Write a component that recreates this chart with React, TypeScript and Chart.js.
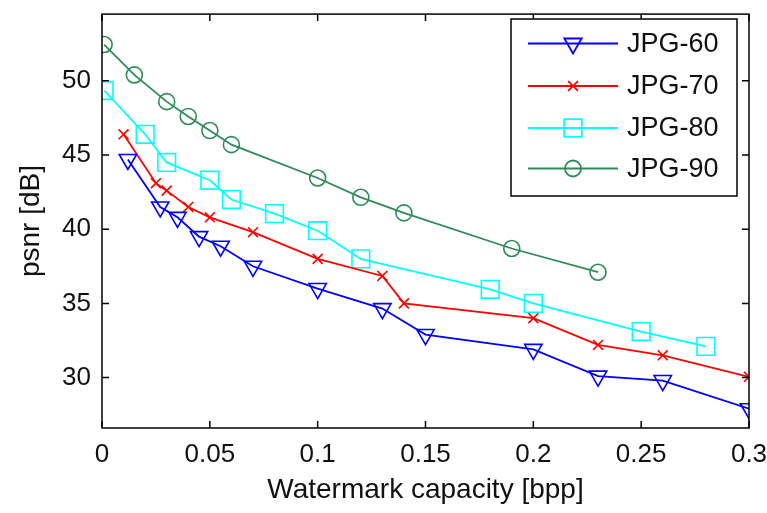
import React, { useEffect, useRef } from "react";
import { Chart, registerables } from "chart.js";
import * as helpers from "chart.js/helpers";

Chart.register(...registerables);

const seriesNames = ["JPG-60", "JPG-70", "JPG-80", "JPG-90"];
const seriesColors = ["#0000ff", "#ff0000", "#00ffff", "#2e8b57"];

const x60 = [0.012, 0.027, 0.035, 0.045, 0.055, 0.07, 0.1, 0.13, 0.15, 0.2, 0.23, 0.26, 0.3];
const y60 = [44.7, 41.5, 40.8, 39.5, 38.85, 37.5, 36.0, 34.65, 32.9, 31.9, 30.1, 29.8, 27.9];

const x70 = [0.01, 0.025, 0.03, 0.04, 0.05, 0.07, 0.1, 0.13, 0.14, 0.2, 0.23, 0.26, 0.3];
const y70 = [46.4, 43.1, 42.6, 41.5, 40.8, 39.8, 38.0, 36.85, 35.0, 34.0, 32.2, 31.5, 30.05];

const x80 = [0.001, 0.02, 0.03, 0.05, 0.06, 0.08, 0.1, 0.12, 0.18, 0.2, 0.25, 0.28];
const y80 = [49.35, 46.4, 44.5, 43.3, 42.0, 41.05, 39.9, 38.0, 35.95, 35.0, 33.1, 32.1];

const x90 = [0.001, 0.015, 0.03, 0.04, 0.05, 0.06, 0.1, 0.12, 0.14, 0.19, 0.23];
const y90 = [52.45, 50.4, 48.6, 47.6, 46.65, 45.7, 43.45, 42.15, 41.1, 38.7, 37.1];

const xTicks = [0, 0.05, 0.1, 0.15, 0.2, 0.25, 0.3];
const yTicks = [30, 35, 40, 45, 50];

const xTitle = "Watermark capacity [bpp]";
const yTitle = "psnr [dB]";

const FONT = "'Liberation Sans', Arial, sans-serif";

const markerStyles = [
  { pointStyle: "triangle", rotation: 180, radius: 10 },
  { pointStyle: "crossRot", rotation: 0, radius: 7 },
  { pointStyle: "rect", rotation: 0, radius: 12.5 },
  { pointStyle: "circle", rotation: 0, radius: 8 },
];

const toPts = (xs: number[], ys: number[]) => xs.map((x, i) => ({ x, y: ys[i] }));

const boxPlugin = {
  id: "matlabBox",
  afterDatasetsDraw(chart: any) {
    const { ctx, chartArea } = chart;
    const { left, right, top, bottom } = chartArea;
    const xs = chart.scales.x;
    const ys = chart.scales.y;
    ctx.save();
    ctx.strokeStyle = "#000";
    ctx.lineWidth = 1.5;
    ctx.strokeRect(left, top, right - left, bottom - top);
    const tl = 7;
    ctx.beginPath();
    xTicks.forEach((v) => {
      const px = xs.getPixelForValue(v);
      ctx.moveTo(px, bottom);
      ctx.lineTo(px, bottom - tl);
      ctx.moveTo(px, top);
      ctx.lineTo(px, top + tl);
    });
    yTicks.forEach((v) => {
      const py = ys.getPixelForValue(v);
      ctx.moveTo(left, py);
      ctx.lineTo(left + tl, py);
      ctx.moveTo(right, py);
      ctx.lineTo(right - tl, py);
    });
    ctx.stroke();
    ctx.restore();
  },
  afterDraw(chart: any) {
    const { ctx } = chart;
    const bx = 511, by = 19, bw = 226, bh = 177;
    ctx.save();
    ctx.fillStyle = "#fff";
    ctx.fillRect(bx, by, bw, bh);
    ctx.strokeStyle = "#000";
    ctx.lineWidth = 1.5;
    ctx.strokeRect(bx, by, bw, bh);
    const rows = [43.5, 86, 128, 168.5];
    chart.data.datasets.forEach((ds: any, i: number) => {
      const y = rows[i];
      ctx.strokeStyle = ds.borderColor;
      ctx.lineWidth = ds.borderWidth;
      ctx.beginPath();
      ctx.moveTo(528, y);
      ctx.lineTo(618, y);
      ctx.stroke();
      ctx.fillStyle = "rgba(0,0,0,0)";
      (helpers as any).drawPoint(ctx, {
        pointStyle: ds.pointStyle,
        rotation: ds.pointRotation,
        radius: ds.pointRadius,
        borderWidth: ds.pointBorderWidth,
      }, 573, y);
      ctx.fillStyle = "#111";
      ctx.font = `27px ${FONT}`;
      ctx.textAlign = "left";
      ctx.textBaseline = "middle";
      ctx.fillText(ds.label, 627, y + 1);
    });
    ctx.restore();
  },
};

export default function App() {
  const ref = useRef<HTMLCanvasElement>(null);
  useEffect(() => {
    const canvas = ref.current;
    if (!canvas) return;
    const xsArr = [x60, x70, x80, x90];
    const ysArr = [y60, y70, y80, y90];
    const chart = new Chart(canvas, {
      type: "line",
      data: {
        datasets: seriesNames.map((name, i) => ({
          label: name,
          data: toPts(xsArr[i], ysArr[i]),
          borderColor: seriesColors[i],
          backgroundColor: seriesColors[i],
          borderWidth: 1.8,
          pointStyle: markerStyles[i].pointStyle as any,
          pointRotation: markerStyles[i].rotation,
          pointRadius: markerStyles[i].radius,
          pointBorderWidth: 1.6,
          pointBackgroundColor: "rgba(0,0,0,0)",
          pointBorderColor: seriesColors[i],
          fill: false,
          tension: 0,
        })),
      },
      options: {
        responsive: false,
        animation: false,
        events: [],
        layout: { padding: { top: 6, right: 18, left: 0, bottom: 0 } },
        plugins: { legend: { display: false }, tooltip: { enabled: false } },
        scales: {
          x: {
            type: "linear",
            min: 0,
            max: 0.3,
            grid: { display: false },
            border: { display: false },
            afterBuildTicks: (s: any) => {
              s.ticks = xTicks.map((v) => ({ value: v }));
            },
            afterFit: (s: any) => {
              s.height = 85;
              s.paddingLeft = 0;
              s.paddingRight = 0;
            },
            ticks: {
              padding: 3,
              maxRotation: 0,
              autoSkip: false,
              color: "#111",
              font: { family: FONT, size: 26 },
              callback: (v: any) => String(Number(v)),
            },
            title: {
              display: true,
              text: xTitle,
              color: "#111",
              font: { family: FONT, size: 28 },
              padding: { top: 0, bottom: 6 },
            },
          },
          y: {
            type: "linear",
            min: 26.6,
            max: 54.5,
            grid: { display: false },
            border: { display: false },
            afterBuildTicks: (s: any) => {
              s.ticks = yTicks.map((v) => ({ value: v }));
            },
            afterFit: (s: any) => {
              s.width = 102;
              s.paddingTop = 0;
              s.paddingBottom = 0;
            },
            ticks: {
              padding: 3,
              color: "#111",
              font: { family: FONT, size: 26 },
              callback: (v: any) => String(v),
            },
            title: {
              display: true,
              text: yTitle,
              color: "#111",
              font: { family: FONT, size: 28 },
              padding: { top: 14, bottom: 0 },
            },
          },
        },
      },
      plugins: [boxPlugin],
    });
    return () => chart.destroy();
  }, []);
  return (
    <div style={{ position: "absolute", left: 0, top: 0, width: 767, height: 513, background: "#fff" }}>
      <canvas ref={ref} width={767} height={513} style={{ width: 767, height: 513 }} />
    </div>
  );
}
